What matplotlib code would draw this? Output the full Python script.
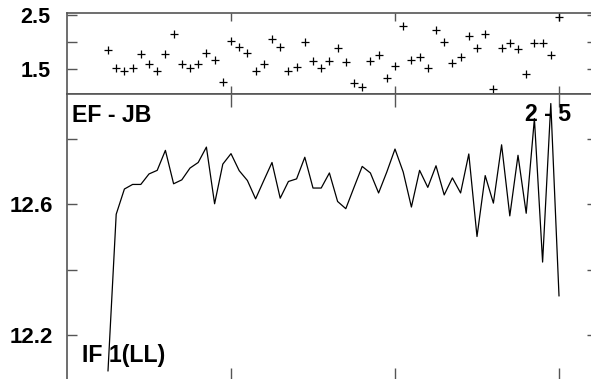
import matplotlib
matplotlib.use("Agg")
import matplotlib.pyplot as plt
import numpy as np

plt.rcParams["font.family"] = ["Liberation Sans", "DejaVu Sans"]
plt.rcParams["font.weight"] = "bold"

# ---------- data ----------
x_idx = np.arange(5, 61)

ef_jb = [1.86, 1.52, 1.47, 1.52, 1.78, 1.59, 1.47, 1.78, 2.15, 1.59,
         1.52, 1.59, 1.80, 1.67, 1.26, 2.03, 1.92, 1.81, 1.46, 1.59,
         2.06, 1.92, 1.46, 1.55, 2.01, 1.66, 1.52, 1.66, 1.89, 1.64,
         1.25, 1.17, 1.65, 1.76, 1.33, 1.56, 2.30, 1.67, 1.72, 1.52,
         2.23, 2.01, 1.62, 1.72, 2.12, 1.89, 2.15, 1.13, 1.89, 1.99,
         1.87, 1.41, 1.99, 1.99, 1.76, 2.46]

if_ll = [12.091, 12.569, 12.646, 12.660, 12.660, 12.692, 12.703, 12.764,
         12.662, 12.674, 12.710, 12.727, 12.774, 12.601, 12.722, 12.754,
         12.702, 12.672, 12.616, 12.672, 12.727, 12.618, 12.669, 12.677,
         12.743, 12.649, 12.649, 12.695, 12.608, 12.586, 12.651, 12.715,
         12.695, 12.634, 12.698, 12.768, 12.698, 12.591, 12.703, 12.651,
         12.717, 12.628, 12.680, 12.634, 12.753, 12.501, 12.687, 12.603,
         12.781, 12.564, 12.749, 12.572, 12.861, 12.423, 12.907, 12.320]

x_ticks = [20, 40, 60]
top_major = [1.5, 2.5]
top_minor = [2.0]
bot_major = [12.2, 12.6]
bot_minor = [12.4, 12.8]

# ---------- figure layout (pixel based) ----------
W, H = 591, 379
fig = plt.figure(figsize=(W / 100, H / 100), dpi=100)

def px_box(left, top, right, bottom):
    return [left / W, 1 - bottom / H, (right - left) / W, (bottom - top) / H]

spine_col = "#555555"
x_max = (597 - 67) / 8.2

ax_top = fig.add_axes(px_box(67, 13.3, 597, 93.7))
ax_bot = fig.add_axes(px_box(67, 93.7, 597, 380))

# upper panel: crosses
ax_top.plot(x_idx, ef_jb, "+", color="black", markersize=6, markeredgewidth=0.9)
ax_top.set_ylim(1.048, 2.537)
ax_top.set_yticks(top_major)
ax_top.set_yticks(top_minor, minor=True)
ax_top.set_yticklabels(["1.5", "2.5"])

# lower panel: line
ax_bot.plot(x_idx, if_ll, color="black", linewidth=0.9)
ax_bot.set_ylim(12.063, 12.937)
ax_bot.set_yticks(bot_major)
ax_bot.set_yticks(bot_minor, minor=True)
ax_bot.set_yticklabels(["12.2", "12.6"])

for ax in (ax_top, ax_bot):
    ax.set_xlim(0, x_max)
    ax.set_xticks(x_ticks)
    ax.set_xticklabels([])
    for sp in ax.spines.values():
        sp.set_color(spine_col)
        sp.set_linewidth(1.2)
    ax.tick_params(axis="both", which="both", direction="in", color=spine_col,
                   width=1.0, left=True, right=True, top=True, bottom=True)
    ax.tick_params(axis="y", which="both", length=7)

ax_top.tick_params(axis="x", length=6)
ax_bot.tick_params(axis="x", length=9)
ax_top.tick_params(axis="y", labelsize=15.5, pad=12)
ax_bot.tick_params(axis="y", labelsize=16, pad=10)
for lab in ax_top.get_yticklabels() + ax_bot.get_yticklabels():
    lab.set_fontweight("bold")

# ---------- panel labels ----------
def label(txt, x, y):
    fig.text(x / W, 1 - y / H, txt, fontsize=16.7, fontweight="bold",
             va="baseline", ha="left")

label("EF - JB", 72, 122)
label("2 - 5", 525, 121)
label("IF 1(LL)", 82, 362)

fig.savefig("out.png", dpi=100)
